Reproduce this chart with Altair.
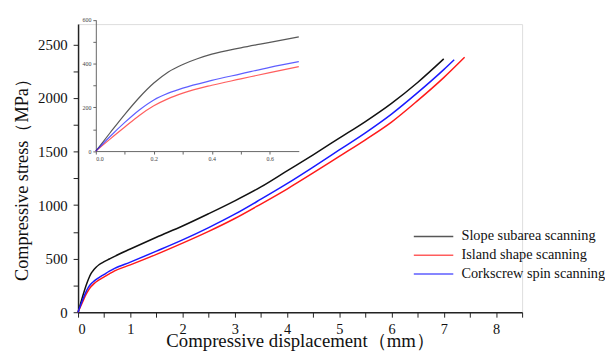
import altair as alt
import pandas as pd

# ---- data ----
series_names = ["Slope subarea scanning", "Island shape scanning", "Corkscrew spin scanning"]
series_colors = ["#111111", "#ff1a1a", "#1a1aff"]

disp_slope = [0, 0.05, 0.1, 0.15, 0.2, 0.25, 0.3, 0.35, 0.4, 0.5, 0.6, 0.7, 1.0, 1.5, 2.0, 2.5, 3.0, 3.5, 4.0, 4.5, 5.0, 5.5, 6.0, 6.5, 7.0]
stress_slope = [0, 85, 168, 245, 311, 362, 396, 422, 443, 472, 497, 522, 590, 700, 805, 920, 1040, 1170, 1320, 1470, 1625, 1780, 1950, 2145, 2365]

disp_island = [0, 0.05, 0.1, 0.15, 0.2, 0.25, 0.3, 0.4, 0.5, 0.6, 0.7, 1.0, 1.5, 2.0, 2.5, 3.0, 3.5, 4.0, 4.5, 5.0, 5.5, 6.0, 6.5, 7.0, 7.4]
stress_island = [0, 56, 110, 163, 207, 240, 265, 301, 330, 359, 386, 442, 540, 645, 755, 875, 1010, 1150, 1300, 1455, 1610, 1775, 1975, 2190, 2380]

disp_cork = [0, 0.05, 0.1, 0.15, 0.2, 0.25, 0.3, 0.4, 0.5, 0.6, 0.7, 1.0, 1.5, 2.0, 2.5, 3.0, 3.5, 4.0, 4.5, 5.0, 5.5, 6.0, 6.5, 7.0, 7.2]
stress_cork = [0, 68, 131, 188, 234, 265, 288, 323, 353, 383, 409, 468, 570, 675, 790, 915, 1055, 1200, 1355, 1515, 1675, 1850, 2050, 2265, 2357]

x_ticks = [i * 0.5 for i in range(0, 18)]
y_ticks = [i * 250 for i in range(0, 11)]
inset_x_ticks = [0, 0.1, 0.2, 0.3, 0.4, 0.5, 0.6]
inset_y_ticks = [0, 100, 200, 300, 400, 500, 600]

rows = []
for name, xs, ys in [(series_names[0], disp_slope, stress_slope),
                     (series_names[1], disp_island, stress_island),
                     (series_names[2], disp_cork, stress_cork)]:
    for x, y in zip(xs, ys):
        rows.append({"series": name, "x": x, "y": y})
df = pd.DataFrame(rows)

FONT = "Liberation Serif"

color = alt.Color(
    "series:N",
    scale=alt.Scale(domain=series_names, range=series_colors),
    legend=alt.Legend(
        title=None, orient="none", legendX=353, legendY=208,
        symbolType="M-10,0H10", symbolSize=16, symbolStrokeWidth=1.5,
        symbolFillColor="transparent",
        labelFont=FONT, labelFontSize=14.5, labelColor="#111",
        labelOffset=21, rowPadding=4, padding=0,
    ),
)

main = alt.Chart(df).mark_line(interpolate="monotone", strokeWidth=1.5).encode(
    x=alt.X("x:Q", scale=alt.Scale(domain=[0, 8.5], nice=False),
            axis=alt.Axis(values=x_ticks, labelExpr="datum.value % 1 == 0 ? format(datum.value, 'd') : ''",
                          title="Compressive displacement（mm）", grid=False,
                          titleFont=FONT, titleFontSize=19, titleFontWeight="normal", titleColor="#111",
                          titleBaseline="alphabetic", titleY=35,
                          labelFont=FONT, labelFontSize=14.5, labelColor="#111", labelPadding=6,
                          domainColor="#222", domainWidth=1.5, tickColor="#222", tickSize=5)),
    y=alt.Y("y:Q", scale=alt.Scale(domain=[0, 2690], nice=False),
            axis=alt.Axis(values=y_ticks, labelExpr="datum.value % 500 == 0 ? format(datum.value, 'd') : ''",
                          title="Compressive stress（MPa）", grid=False,
                          titleFont=FONT, titleFontSize=18.5, titleFontWeight="normal", titleColor="#111",
                          titleBaseline="alphabetic", titleAngle=-90, titleX=-51, titleY=153,
                          labelFont=FONT, labelFontSize=15, labelColor="#111", labelPadding=6,
                          domainColor="#222", domainWidth=1.5, tickColor="#222", tickSize=5)),
    color=color,
    order="x:Q",
)

inset = alt.Chart(df).transform_filter("datum.x <= 0.7").mark_line(
    interpolate="monotone", strokeWidth=1.2, opacity=0.7).encode(
    x=alt.X("x:Q", scale=alt.Scale(domain=[0, 0.7], range=[18, 223.7], nice=False),
            axis=alt.Axis(orient="bottom", offset=-163.3, values=inset_x_ticks,
                          labelExpr="(datum.value*10) % 2 < 0.01 ? format(datum.value, '.1f') : ''",
                          title=None, grid=False, labelFont=FONT, labelFontSize=6, labelColor="#444",
                          labelPadding=2, domainColor="#666", tickColor="#666", tickSize=3)),
    y=alt.Y("y:Q", scale=alt.Scale(domain=[0, 600], range=[128.7, -4.3], nice=False),
            axis=alt.Axis(orient="left", offset=-18, values=inset_y_ticks,
                          labelExpr="datum.value % 200 == 0 ? format(datum.value, 'd') : ''",
                          title=None, grid=False, labelFont=FONT, labelFontSize=6, labelColor="#444",
                          labelPadding=2, domainColor="#666", tickColor="#666", tickSize=3)),
    color=color,
    order="x:Q",
)

chart = alt.layer(main, inset).resolve_scale(x="independent", y="independent").properties(
    width=450, height=292,
    autosize=alt.AutoSizeParams(type="none"),
    padding={"left": 71, "top": 14, "right": 84, "bottom": 38},
).configure_view(stroke=None).configure(background="white")

chart.save("out.html", embed_options={"renderer": "svg", "actions": False})
